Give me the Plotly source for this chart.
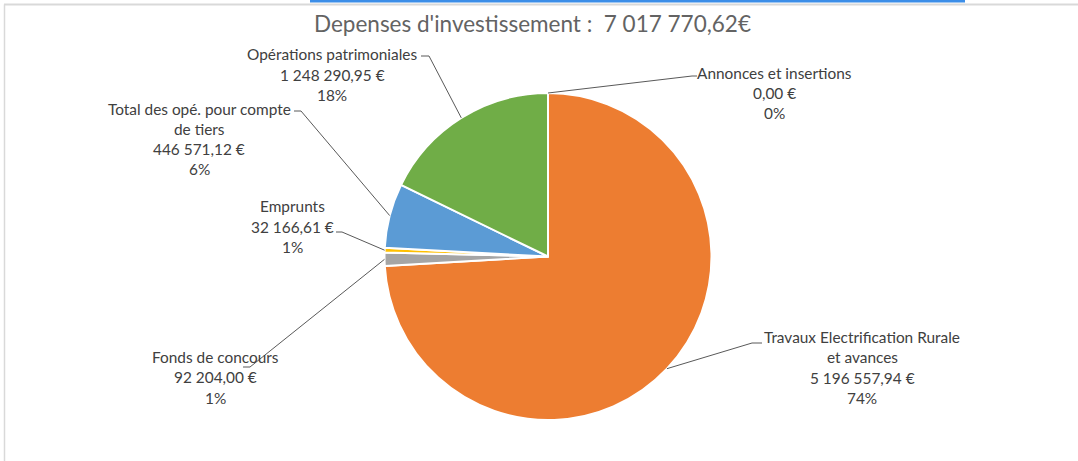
import plotly.graph_objects as go
import math

# ---- data ----
categories = ["Annonces et insertions", "Travaux Electrification Rurale et avances",
              "Fonds de concours", "Emprunts", "Total des opé. pour compte de tiers",
              "Opérations patrimoniales"]
values = [0.00, 5196557.94, 92204.00, 32166.61, 446571.12, 1248290.95]
percent_labels = ["0%", "74%", "1%", "1%", "6%", "18%"]
name_lines = [["Annonces et insertions"],
              ["Travaux Electrification Rurale", "et avances"],
              ["Fonds de concours"],
              ["Emprunts"],
              ["Total des opé. pour compte", "de tiers"],
              ["Opérations patrimoniales"]]
title_text = "Depenses d'investissement :  7 017 770,62€"
colors = ["#4472C4", "#ED7D31", "#A5A5A5", "#FFC000", "#5B9BD5", "#70AD47"]

# ---- layout constants (pixels) ----
W, H = 1078, 461
CX, CY, R = 548, 256.5, 163.5
FONT = "Lato"
TXT = "#404040"

def px(x):
    return x / W

def py(y):
    return 1 - y / H

def fmt_eur(v):
    s = f"{v:,.2f}"
    ent, dec = s.split(".")
    return ent.replace(",", " ") + "," + dec + " €"

# label placement: line centers (x, [y per line]) and leader (elbow, end)
label_pos = [
    (774, [73, 93, 113], (692, 76), 697),
    (862, [337, 357, 378, 398], (752, 343), 762),
    (215, [357, 377, 398], (250, 367), 243),
    (292, [206, 227, 247], (342, 232), 336),
    (199, [109, 129, 149, 169], (301, 111), 294),
    (332, [54, 75, 95], (429, 56), 421),
]

fig = go.Figure()
fig.add_trace(go.Pie(
    labels=categories, values=values, sort=False, direction="clockwise",
    rotation=0, textinfo="none", hoverinfo="label+value+percent",
    marker=dict(colors=colors, line=dict(color="white", width=2)),
    domain=dict(x=[px(CX - R), px(CX + R)], y=[py(CY + R), py(CY - R)]),
    showlegend=False,
))

total = sum(values)
cum = 0.0
annotations = []
shapes = []
for i, v in enumerate(values):
    mid = (cum + v / 2) / total * 2 * math.pi
    cum += v
    ex = CX + R * math.sin(mid)
    ey = CY - R * math.cos(mid)
    lx, ly_list, (elx, ely), endx = label_pos[i]
    lines = name_lines[i] + [fmt_eur(v), percent_labels[i]]
    for t, yy in zip(lines, ly_list):
        annotations.append(dict(x=px(lx), y=py(yy), xref="paper", yref="paper",
                                text=t, showarrow=False, xanchor="center", yanchor="middle",
                                font=dict(family=FONT, size=15.4, color=TXT)))
    shapes.append(dict(type="path", xref="paper", yref="paper",
                       path=f"M {px(ex)} {py(ey)} L {px(elx)} {py(ely)} L {px(endx)} {py(ely)}",
                       line=dict(color="#595959", width=1)))

annotations.append(dict(x=px(532), y=py(24), xref="paper", yref="paper", text=title_text,
                        showarrow=False, xanchor="center", yanchor="middle",
                        font=dict(family=FONT, size=22.5, color="#636363")))

# frame of the captured chart
shapes += [
    dict(type="line", xref="paper", yref="paper", x0=px(4), x1=1, y0=py(4.5), y1=py(4.5),
         line=dict(color="#D9D9D9", width=2)),
    dict(type="line", xref="paper", yref="paper", x0=px(4.5), x1=px(4.5), y0=py(4.5), y1=0,
         line=dict(color="#D9D9D9", width=1.5)),
    dict(type="rect", xref="paper", yref="paper", x0=px(310), x1=px(965), y0=py(0), y1=py(2.5),
         line=dict(width=0), fillcolor="#3C8EE8"),
]

fig.update_layout(width=W, height=H, margin=dict(l=0, r=0, t=0, b=0),
                  paper_bgcolor="white", plot_bgcolor="white",
                  annotations=annotations, shapes=shapes)
fig.write_html("out.html", config={"displayModeBar": False},
               post_script="document.body.style.margin='0';")
